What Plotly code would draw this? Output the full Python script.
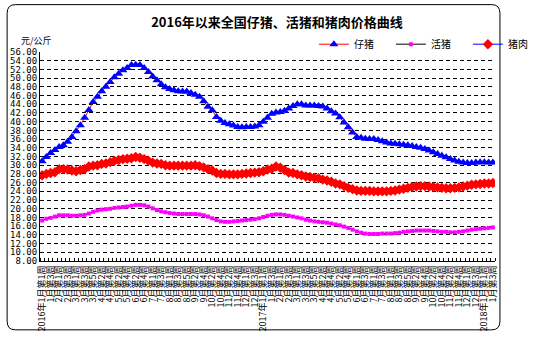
import plotly.graph_objects as go

# Weeks per month (2016, 2017) and the first weeks of 2018
weeks_2016 = [4, 4, 5, 4, 4, 5, 4, 5, 4, 4, 5, 4]
weeks_2017 = [4, 4, 5, 4, 5, 4, 4, 5, 4, 4, 5, 4]
weeks_2018 = [3]

# Weekly prices, yuan per kg
piglet = [
    30.9, 31.9, 32.8, 33.5, 34.2, 34.6, 35.4, 36.5, 37.8, 39.2,
    40.9, 42.7, 44.5, 45.7, 47.0, 48.0, 49.1, 50.2, 51.0, 51.8,
    52.3, 53.0, 53.1, 53.0, 52.3, 51.4, 50.4, 49.5, 48.6, 47.9,
    47.5, 47.2, 47.0, 46.9, 46.9, 46.6, 46.2, 45.7, 44.7, 43.4,
    42.6, 41.1, 40.2, 39.7, 39.4, 39.1, 38.8, 38.7, 38.8, 38.8,
    38.9, 39.2, 40.0, 40.9, 41.8, 42.1, 42.2, 42.5, 43.0, 43.6,
    44.0, 44.0, 43.7, 43.7, 43.7, 43.6, 43.5, 43.0, 42.4, 41.9,
    41.0, 39.8, 38.7, 37.5, 36.5, 36.3, 36.1, 36.0, 36.0, 35.8,
    35.5, 35.2, 35.0, 34.9, 34.8, 34.7, 34.6, 34.4, 34.2, 34.0,
    33.7, 33.4, 33.0, 32.6, 32.2, 31.8, 31.4, 31.1, 30.8, 30.6,
    30.5, 30.5, 30.6, 30.7, 30.7, 30.6, 30.6,
]
live_hog = [
    17.3, 17.7, 17.9, 18.2, 18.5, 18.5, 18.5, 18.4, 18.4, 18.5,
    18.6, 18.9, 19.3, 19.6, 19.8, 19.9, 20.0, 20.2, 20.3, 20.4,
    20.5, 20.7, 20.9, 20.9, 20.8, 20.5, 20.1, 19.7, 19.4, 19.2,
    19.0, 18.9, 18.8, 18.8, 18.8, 18.8, 18.8, 18.7, 18.5, 18.2,
    17.8, 17.4, 17.1, 17.0, 17.0, 17.1, 17.2, 17.3, 17.4, 17.5,
    17.6, 17.8, 18.1, 18.4, 18.6, 18.7, 18.7, 18.6, 18.4, 18.2,
    18.0, 17.8, 17.5, 17.3, 17.1, 17.0, 16.9, 16.8, 16.6, 16.4,
    16.2, 15.9, 15.6, 15.2, 14.8, 14.5, 14.3, 14.2, 14.2, 14.2,
    14.3, 14.3, 14.3, 14.4, 14.5, 14.7, 14.8, 14.9, 15.0, 15.0,
    15.0, 15.0, 14.9, 14.8, 14.7, 14.7, 14.6, 14.6, 14.7, 14.8,
    15.0, 15.2, 15.3, 15.4, 15.5, 15.6, 15.7,
]
pork = [
    27.7, 28.0, 28.2, 28.4, 29.1, 29.1, 29.0, 28.8, 28.6, 28.9,
    29.1, 29.7, 29.9, 30.0, 30.3, 30.4, 30.7, 31.0, 31.2, 31.4,
    31.5, 31.6, 31.9, 31.7, 31.4, 31.0, 30.6, 30.4, 30.3, 30.0,
    29.9, 29.9, 29.9, 29.9, 29.9, 29.9, 30.0, 29.8, 29.5, 29.1,
    28.8, 28.2, 28.0, 28.0, 27.9, 27.9, 27.9, 28.0, 28.1, 28.2,
    28.3, 28.4, 28.6, 29.0, 29.2, 29.7, 29.4, 28.9, 28.3, 28.2,
    27.9, 27.7, 27.4, 27.3, 27.1, 27.0, 26.7, 26.5, 26.2, 25.8,
    25.6, 25.2, 24.8, 24.5, 24.2, 24.1, 24.1, 24.1, 24.0, 24.0,
    24.0, 24.0, 24.1, 24.2, 24.4, 24.6, 24.8, 25.0, 25.1, 25.2,
    25.2, 25.1, 25.0, 24.9, 24.8, 24.7, 24.7, 24.8, 24.9, 25.1,
    25.3, 25.5, 25.6, 25.7, 25.8, 25.8, 25.9,
]

# Week names: "2016年1月第1周", "1月第2周", ...
weeks = []
for year, counts in ((2016, weeks_2016), (2017, weeks_2017), (2018, weeks_2018)):
    for m, n in enumerate(counts, start=1):
        for w in range(1, n + 1):
            name = f"{m}月第{w}周"
            if m == 1 and w == 1:
                name = f"{year}年" + name
            weeks.append(name)

assert len(weeks) == len(piglet) == len(live_hog) == len(pork)
idx = list(range(len(weeks)))
label_idx = idx[::2]
label_txt = [weeks[i] for i in label_idx]

CJK = "Noto Sans CJK SC"

fig = go.Figure()
fig.add_trace(go.Scatter(
    x=idx, y=piglet, name="仔猪", mode="lines+markers",
    line=dict(color="#FF0000", width=1),
    marker=dict(symbol="triangle-up", size=8, color="#0000FF"),
    customdata=weeks, hovertemplate="%{customdata}: %{y:.2f}<extra>仔猪</extra>",
))
fig.add_trace(go.Scatter(
    x=idx, y=live_hog, name="活猪", mode="lines+markers",
    line=dict(color="#000000", width=1),
    marker=dict(symbol="square", size=4, color="#FF00FF"),
    customdata=weeks, hovertemplate="%{customdata}: %{y:.2f}<extra>活猪</extra>",
))
fig.add_trace(go.Scatter(
    x=idx, y=pork, name="猪肉", mode="lines+markers",
    line=dict(color="#0000FF", width=1),
    marker=dict(symbol="diamond", size=8, color="#FF0000"),
    customdata=weeks, hovertemplate="%{customdata}: %{y:.2f}<extra>猪肉</extra>",
))

W, H = 554, 341
ML, MR, MT, MB = 40, 9, 52, 75
PW, PH = W - ML - MR, H - MT - MB


def px(x):
    return (x - ML) / PW


def py(y):
    return (H - MB - y) / PH


# rounded frame around the whole chart
x0, x1, y0, y1, r = 3.5, 550.5, 3.5, 336.5, 9
frame = (
    f"M {px(x0 + r)},{py(y0)} L {px(x1 - r)},{py(y0)} "
    f"Q {px(x1)},{py(y0)} {px(x1)},{py(y0 + r)} "
    f"L {px(x1)},{py(y1 - r)} Q {px(x1)},{py(y1)} {px(x1 - r)},{py(y1)} "
    f"L {px(x0 + r)},{py(y1)} Q {px(x0)},{py(y1)} {px(x0)},{py(y1 - r)} "
    f"L {px(x0)},{py(y0 + r)} Q {px(x0)},{py(y0)} {px(x0 + r)},{py(y0)} Z"
)
fig.add_shape(type="path", path=frame, xref="paper", yref="paper",
              line=dict(color="#000000", width=1), layer="above")

fig.update_layout(
    width=W, height=H,
    margin=dict(l=ML, r=MR, t=MT, b=MB),
    paper_bgcolor="#FFFFFF", plot_bgcolor="#FFFFFF",
    font=dict(family=CJK, size=9, color="#000000"),
    title=dict(
        text="<b>2016年以来全国仔猪、活猪和猪肉价格曲线</b>",
        x=0.5, xref="container", xanchor="center",
        y=1 - 22 / H, yref="container", yanchor="middle",
        font=dict(family=CJK, size=13, color="#000000"),
    ),
    showlegend=True,
    legend=dict(
        orientation="h", x=px(344), xanchor="left", y=py(44), yanchor="middle",
        font=dict(family=CJK, size=10, color="#000000"),
        entrywidth=32, entrywidthmode="pixels", itemwidth=30,
        bgcolor="rgba(0,0,0,0)", tracegroupgap=0,
    ),
    xaxis=dict(
        range=[-0.5, len(weeks) - 0.5], tickmode="array",
        tickvals=label_idx, ticktext=label_txt, tickangle=-90,
        ticks="", showgrid=False, zeroline=False,
        showline=True, linecolor="#000000", linewidth=1,
        tickfont=dict(family=CJK, size=9, color="#000000"),
        minor=dict(tick0=-0.5, dtick=1, ticks="inside", ticklen=3,
                   tickcolor="#000000", showgrid=False),
    ),
    yaxis=dict(
        range=[8, 56], dtick=2, tick0=8, tickformat=".2f",
        ticks="inside", ticklen=3, tickcolor="#000000",
        showgrid=True, gridcolor="#000000", gridwidth=1, griddash="4px,3px",
        zeroline=False, showline=True, linecolor="#000000", linewidth=1,
        tickfont=dict(family="DejaVu Sans Mono", size=9, color="#000000"),
    ),
    annotations=[dict(
        text="元/公斤", xref="paper", yref="paper",
        x=px(17), y=py(40), xanchor="left", yanchor="middle",
        showarrow=False, font=dict(family=CJK, size=9, color="#000000"),
    )],
)

fig.write_html("out.html")
